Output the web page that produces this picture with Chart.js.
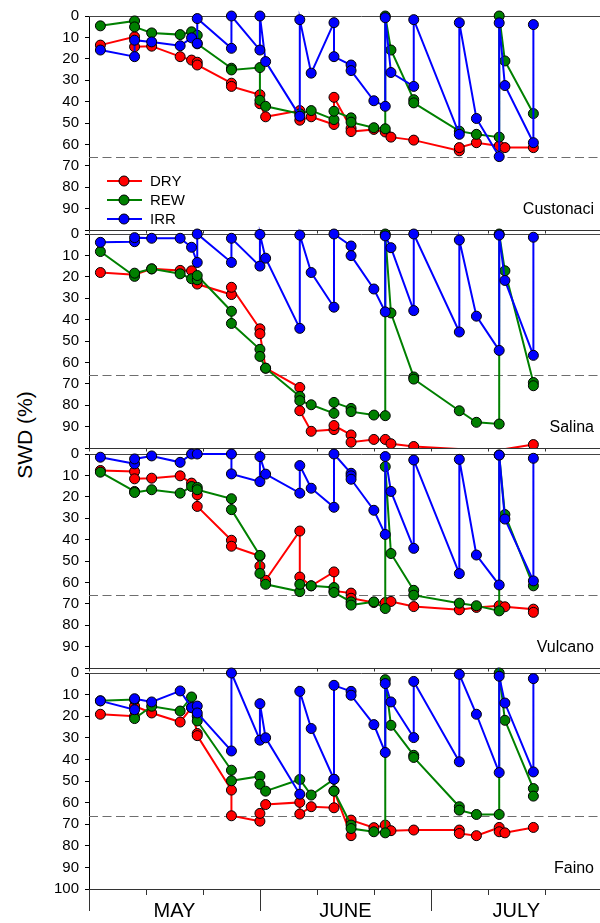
<!DOCTYPE html>
<html>
<head>
<meta charset="utf-8">
<script src="https://cdn.jsdelivr.net/npm/chart.js@4.4.0/dist/chart.umd.min.js"></script>
<style>
html, body { margin: 0; padding: 0; background: #fff; }
#wrap { position: relative; width: 600px; height: 923px; overflow: hidden; }
#wrap canvas { position: absolute; left: 0; }
#ylab {
    position: absolute; left: 25px; top: 435px;
    transform: translate(-50%, -50%) rotate(-90deg);
    font: 21px "Liberation Sans", Arial, sans-serif; color: #000; white-space: nowrap;
}
</style>
</head>
<body>
<div id="wrap"><div id="ylab">SWD (%)</div></div>
<script>
// x = days since the start of May (tick every 10 days), y = SWD (%)
const custonaciDry = [[2,13.6],[8,9.7],[8,14.4],[11,14.1],[16,19],[18,20.6],[19,21.6],[19,22.9],[25,31.4],[25,32.9],[30,36.8],[30,41],[31,47.1],[37,44.2],[37,48.7],[39,47.1],[43,50.7],[43,38],[46,52.5],[46,54],[50,53],[52,54.2],[53,56.6],[57,58],[65,63],[65,61.5],[68,59.2],[72,60.7],[73,61.5],[78,61.5]];
const custonaciRew = [[2,4.6],[8,2.3],[8,5.1],[11,7.9],[16,8.7],[18,7.4],[19,9],[19,13],[25,24.4],[25,25.2],[30,24.1],[30,39.4],[31,42.2],[37,45.7],[39,44.2],[43,48.4],[43,44.5],[46,47.6],[46,49.6],[50,52.2],[52,52.7],[52,0],[53,15.9],[57,39.1],[57,40.6],[65,53.8],[68,55.3],[72,56.6],[72,0],[73,21],[78,45.6]];
const custonaciIrr = [[2,15.9],[8,19],[8,11.3],[11,12.1],[16,13.9],[18,10.2],[19,12.8],[19,1.2],[25,15.1],[25,0],[30,15.9],[30,0],[31,21.3],[37,46.8],[37,1.7],[39,26.7],[43,3.1],[43,19],[46,22.9],[46,25.5],[50,39.6],[52,42.2],[52,0.8],[53,26.4],[57,32.9],[57,1.7],[65,55.3],[65,3.1],[68,47.9],[72,65.7],[72,3.2],[73,32.5],[78,59.2],[78,4]];

const salinaDry = [[2,18],[8,19],[11,16.3],[16,17],[18,17.2],[19,23.4],[25,28.3],[25,24.9],[30,44.3],[30,46.6],[31,62.7],[37,71.7],[37,82.6],[39,92.2],[43,91.4],[43,89.5],[46,93.9],[46,97.3],[50,96],[52,96],[53,98],[57,99.3],[65,100.5],[68,101.5],[72,101.5],[73,100.5],[78,98.4]];
const salinaRew = [[2,8.2],[8,19.8],[8,18.3],[11,16.3],[16,18.6],[18,20.9],[19,21.4],[19,19.4],[25,36.1],[25,41.8],[30,53.9],[30,57.2],[31,62.7],[37,75.9],[37,77.9],[39,79.8],[43,83.8],[43,78.7],[46,81.5],[46,83],[50,84.6],[52,84.9],[52,0],[53,36.9],[57,66.8],[57,67.8],[65,82.6],[68,88],[72,88.8],[72,0],[73,17.2],[78,69.4],[78,70.9]];
const salinaIrr = [[2,3.9],[8,3.6],[8,1.7],[11,2],[16,2],[18,6.2],[19,13.3],[19,0],[25,13.3],[25,2],[30,15],[30,0.2],[31,11.3],[37,44.1],[37,0.5],[39,18],[43,34.2],[43,0],[46,5.6],[46,10.1],[50,25.7],[52,36.4],[52,0.9],[53,6.4],[57,35.8],[57,0],[65,45.8],[65,2.8],[68,38.4],[72,54.4],[72,0.5],[73,21.7],[78,56.7],[78,1.5]];

const vulcanoDry = [[2,7.7],[8,8.2],[8,11.6],[11,11.3],[16,10.2],[18,13.6],[19,19.1],[19,24.5],[25,40.3],[25,43.1],[30,47.7],[30,52.4],[31,59],[37,36],[37,57.5],[39,61.6],[43,55.1],[43,64],[46,65],[46,67.4],[50,69.4],[52,69.4],[53,68.9],[57,71.3],[65,72.8],[68,71.7],[72,70.9],[73,71.4],[78,72.5],[78,74]];
const vulcanoRew = [[2,8.5],[8,17.5],[8,18],[11,16.7],[16,18.3],[18,15.2],[19,15.6],[19,16.7],[25,20.9],[25,26],[30,47.4],[30,55.8],[31,60.9],[37,64.3],[37,60.9],[39,61.6],[43,62.4],[43,64.7],[46,69.1],[46,70.6],[50,69.1],[52,72.2],[52,5.9],[53,46.5],[57,63.7],[57,66],[65,69.7],[68,70.9],[72,73.3],[72,0.5],[73,28.3],[78,61.6]];
const vulcanoIrr = [[2,1.5],[8,4.6],[8,2.3],[11,0.9],[16,3.9],[18,0],[19,0],[25,0],[25,9.3],[30,12.9],[30,1.2],[31,9.4],[37,18.3],[37,5.4],[39,16],[43,24.9],[43,0],[46,9],[46,10.2],[46,11.8],[50,26.3],[52,37.6],[52,1.2],[53,17.5],[57,44.1],[57,2.8],[65,55.9],[65,2.5],[68,47.2],[72,61.2],[72,0.5],[73,30.4],[78,59.3],[78,2]];

const fainoDry = [[2,19.1],[8,20],[8,15.3],[11,18.5],[16,22.7],[18,16],[19,28],[19,29],[25,54.2],[25,66.1],[30,68.6],[30,65],[31,60.9],[37,59.9],[37,65.3],[39,61.9],[43,62.4],[43,54.5],[46,75.3],[46,68.1],[50,71.6],[52,70.4],[53,73],[57,72.7],[65,72.7],[65,74.3],[68,75.3],[72,71.5],[72,73.5],[73,74],[78,71.5]];
const fainoRew = [[2,12.9],[8,12.3],[8,21.1],[11,15.4],[16,17.6],[18,11.1],[19,20],[19,22.2],[25,45],[25,49.9],[30,47.8],[30,51.5],[31,54.7],[37,49.3],[39,56.5],[43,49.2],[43,54.7],[46,70.4],[46,72],[50,73.5],[52,74],[52,3.1],[53,24.2],[57,38.1],[57,39.1],[65,61.9],[65,63.5],[68,65.5],[72,65.5],[72,0],[73,21.9],[78,53.5],[78,57]];
const fainoIrr = [[2,12.9],[8,17],[8,11.9],[11,13.4],[16,8.3],[18,16],[19,15.3],[19,18.5],[25,36.1],[25,0],[30,31.1],[30,14.2],[31,30],[37,56.1],[37,8.5],[39,25.7],[43,49.2],[43,5.7],[46,8.5],[46,10.3],[50,23.9],[52,36.8],[52,4.9],[53,13.4],[57,29.9],[57,3.9],[65,41.1],[65,0.6],[68,19.1],[72,46.1],[72,1.5],[73,13.9],[78,45.8],[78,2.6]];

const sites = ['Custonaci', 'Salina', 'Vulcano', 'Faino'];
const seriesNames = ['DRY', 'REW', 'IRR'];
const seriesColors = ['#ff0000', '#008000', '#0000ff'];
const months = ['MAY', 'JUNE', 'JULY'];
const monthMid = [15, 45, 75];
const dayTicks = [0, 10, 20, 30, 40, 50, 60, 70, 80, 90];
const threshold = 66;

const panelData = [
    [custonaciDry, custonaciRew, custonaciIrr],
    [salinaDry, salinaRew, salinaIrr],
    [vulcanoDry, vulcanoRew, vulcanoIrr],
    [fainoDry, fainoRew, fainoIrr]
];

const FONT = '"Liberation Sans", Arial, sans-serif';
Chart.defaults.font.family = FONT;

const panelTop = [16, 234, 454, 673];
const panelH = 216;
const padTop = 8;
const wrap = document.getElementById('wrap');

// dashed threshold, frame top, x tick marks, site name, legend
const panelPlugin = {
    id: 'panelDeco',
    beforeDatasetsDraw(chart, args, opts) {
        const ctx = chart.ctx, a = chart.chartArea;
        const xs = chart.scales.x, ys = chart.scales.y;
        ctx.save();
        // threshold
        const ty = Math.round(ys.getPixelForValue(threshold)) + 0.5;
        ctx.strokeStyle = '#6e6e6e';
        ctx.lineWidth = 1.2;
        ctx.setLineDash([9, 4.5]);
        ctx.beginPath();
        ctx.moveTo(a.left, ty);
        ctx.lineTo(a.right, ty);
        ctx.stroke();
        ctx.setLineDash([]);
        // top frame
        ctx.strokeStyle = '#444';
        ctx.lineWidth = 1;
        ctx.beginPath();
        ctx.moveTo(a.left, a.top + 0.5);
        ctx.lineTo(a.right, a.top + 0.5);
        ctx.stroke();
        // tick marks below the panel
        ctx.strokeStyle = '#333';
        dayTicks.forEach(d => {
            const x = Math.round(xs.getPixelForValue(d)) + 0.5;
            let len = 3.5;
            if (opts.last) len = d % 30 === 0 ? 22 : 6;
            ctx.beginPath();
            ctx.moveTo(x, a.bottom);
            ctx.lineTo(x, a.bottom + len);
            ctx.stroke();
        });
        // site name
        ctx.fillStyle = '#000';
        ctx.font = '16px ' + FONT;
        ctx.textAlign = 'right';
        ctx.textBaseline = 'alphabetic';
        ctx.fillText(opts.site, a.left + 505, a.bottom - 16);
        ctx.restore();
    },
    afterDatasetsDraw(chart, args, opts) {
        if (!opts.legend) return;
        const ctx = chart.ctx, a = chart.chartArea;
        const rows = [165, 184, 203];
        ctx.save();
        seriesNames.forEach((name, k) => {
            const y = a.top + rows[k];
            ctx.strokeStyle = seriesColors[k];
            ctx.lineWidth = 2;
            ctx.beginPath();
            ctx.moveTo(a.left + 18, y);
            ctx.lineTo(a.left + 53, y);
            ctx.stroke();
            ctx.fillStyle = seriesColors[k];
            ctx.strokeStyle = '#000';
            ctx.lineWidth = 1;
            ctx.beginPath();
            ctx.arc(a.left + 35, y, 5, 0, Math.PI * 2);
            ctx.fill();
            ctx.stroke();
            ctx.fillStyle = '#000';
            ctx.font = '15px ' + FONT;
            ctx.textAlign = 'left';
            ctx.textBaseline = 'middle';
            ctx.fillText(name, a.left + 61, y + 1);
        });
        ctx.restore();
    }
};

function makePanel(i) {
    const last = i === sites.length - 1;
    const axisH = last ? 34 : 4;
    const c = document.createElement('canvas');
    c.width = 640;
    c.height = padTop + panelH + axisH;
    c.style.top = (panelTop[i] - padTop) + 'px';
    wrap.appendChild(c);

    new Chart(c, {
        type: 'scatter',
        data: {
            datasets: panelData[i].map((pts, k) => ({
                label: seriesNames[k],
                data: pts.map(p => ({ x: p[0], y: p[1] })),
                showLine: true,
                borderColor: seriesColors[k],
                backgroundColor: seriesColors[k],
                borderWidth: 2,
                pointRadius: ctx => (ctx.raw && ctx.raw.y > 100 ? 0 : 5),
                pointBorderColor: '#000',
                pointBorderWidth: 1,
                order: 2 - k,
                clip: { left: 8, top: 8, right: 0, bottom: 0 }
            }))
        },
        options: {
            responsive: false,
            animation: false,
            events: [],
            layout: { padding: { top: padTop, left: 0, right: 0, bottom: 0 } },
            plugins: {
                legend: { display: false },
                tooltip: { enabled: false },
                panelDeco: { site: sites[i], last: last, legend: i === 0 }
            },
            scales: {
                x: {
                    type: 'linear',
                    min: 0,
                    max: 95.66,
                    afterBuildTicks: s => { s.ticks = monthMid.map(v => ({ value: v })); },
                    afterFit: s => { s.height = axisH; s.paddingLeft = 0; s.paddingRight = 0; },
                    border: { display: true, color: '#333' },
                    grid: { display: false, drawTicks: false },
                    ticks: {
                        display: last,
                        autoSkip: false,
                        maxRotation: 0,
                        padding: 10,
                        color: '#000',
                        font: { size: 20 },
                        callback: (v) => months[monthMid.indexOf(v)]
                    }
                },
                y: {
                    min: 0,
                    max: 100,
                    reverse: true,
                    afterFit: s => { s.width = 89; s.paddingTop = 0; s.paddingBottom = 0; },
                    border: { display: true, color: '#000' },
                    grid: { drawOnChartArea: false, drawTicks: true, tickLength: 4, color: '#000' },
                    ticks: {
                        stepSize: 10,
                        autoSkip: false,
                        padding: 6,
                        color: '#000',
                        font: { size: 15 },
                        callback: v => (v === 100 && !last ? '' : v)
                    }
                }
            }
        },
        plugins: [panelPlugin]
    });
}

for (let i = 0; i < sites.length; i++) {
    makePanel(i);
}
</script>
</body>
</html>
